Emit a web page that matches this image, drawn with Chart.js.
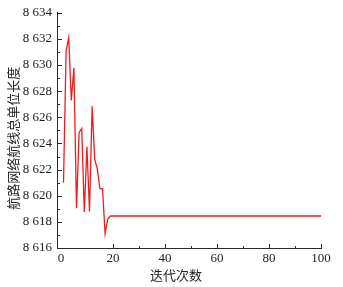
<!DOCTYPE html>
<html>
<head>
<meta charset="utf-8">
<script src="https://cdn.jsdelivr.net/npm/chart.js@4.4.1/dist/chart.umd.min.js"></script>
<style>
  html, body { margin: 0; padding: 0; background: #fff; }
  #wrap { width: 343px; height: 287px; }
</style>
</head>
<body>
<div id="wrap"><canvas id="chart"></canvas></div>
<script>
// iteration number -> total route length
const iterations = [];
for (let i = 1; i <= 100; i++) iterations.push(i);

const totalLength = [
  8621.0, 8631.1, 8632.1, 8627.3, 8629.8, 8619.05, 8624.85, 8625.15, 8618.75, 8623.75,
  8618.8, 8626.85, 8622.8, 8622.05, 8620.55, 8620.55, 8617.1, 8618.2, 8618.45, 8618.45,
  8618.45, 8618.45, 8618.45, 8618.45, 8618.45, 8618.45, 8618.45, 8618.45, 8618.45, 8618.45,
  8618.45, 8618.45, 8618.45, 8618.45, 8618.45, 8618.45, 8618.45, 8618.45, 8618.45, 8618.45,
  8618.45, 8618.45, 8618.45, 8618.45, 8618.45, 8618.45, 8618.45, 8618.45, 8618.45, 8618.45,
  8618.45, 8618.45, 8618.45, 8618.45, 8618.45, 8618.45, 8618.45, 8618.45, 8618.45, 8618.45,
  8618.45, 8618.45, 8618.45, 8618.45, 8618.45, 8618.45, 8618.45, 8618.45, 8618.45, 8618.45,
  8618.45, 8618.45, 8618.45, 8618.45, 8618.45, 8618.45, 8618.45, 8618.45, 8618.45, 8618.45,
  8618.45, 8618.45, 8618.45, 8618.45, 8618.45, 8618.45, 8618.45, 8618.45, 8618.45, 8618.45,
  8618.45, 8618.45, 8618.45, 8618.45, 8618.45, 8618.45, 8618.45, 8618.45, 8618.45, 8618.45
];

const xTicks = [0, 20, 40, 60, 80, 100];
const xMinorTicks = [30, 50, 70, 90];
const yTicks = [8616, 8618, 8620, 8622, 8624, 8626, 8628, 8630, 8632, 8634];
const yMinorTicks = [8617, 8619, 8621, 8623, 8625, 8627, 8629, 8631, 8633];

const xTitle = "迭代次数";
const yTitle = "航路网络航线总单位长度";

const axisColor = "#2a2a2a";
const serif = "'Liberation Serif', 'DejaVu Serif', serif";
const cjk = "'Noto Sans CJK SC', sans-serif";

// tick marks drawn pointing into the plot
const innerTicks = {
  id: "innerTicks",
  afterDraw(chart) {
    const ctx = chart.ctx;
    const x = chart.scales.x, y = chart.scales.y;
    const area = chart.chartArea;
    ctx.save();
    ctx.strokeStyle = axisColor;
    ctx.lineWidth = 1;
    ctx.beginPath();
    xTicks.forEach(v => {
      if (v === 0) return;
      const px = Math.round(x.getPixelForValue(v)) + 0.5;
      ctx.moveTo(px, area.bottom);
      ctx.lineTo(px, area.bottom - 4);
    });
    xMinorTicks.forEach(v => {
      const px = Math.round(x.getPixelForValue(v)) + 0.5;
      ctx.moveTo(px, area.bottom);
      ctx.lineTo(px, area.bottom - 2);
    });
    yTicks.forEach(v => {
      const py = Math.round(y.getPixelForValue(v)) + 0.5;
      ctx.moveTo(area.left, py);
      ctx.lineTo(area.left + 5, py);
    });
    yMinorTicks.forEach(v => {
      const py = Math.round(y.getPixelForValue(v)) + 0.5;
      ctx.moveTo(area.left, py);
      ctx.lineTo(area.left + 3, py);
    });
    ctx.stroke();
    ctx.restore();
  }
};

new Chart(document.getElementById("chart"), {
  type: "line",
  data: {
    labels: iterations,
    datasets: [{
      data: iterations.map((it, i) => ({ x: it, y: totalLength[i] })),
      borderColor: "#f01c1c",
      borderWidth: 1.3,
      pointRadius: 0,
      tension: 0,
      fill: false
    }]
  },
  options: {
    responsive: true,
    maintainAspectRatio: false,
    animation: false,
    layout: { padding: { top: 11, right: 22, left: 0, bottom: 0 } },
    plugins: { legend: { display: false }, tooltip: { enabled: false } },
    scales: {
      x: {
        type: "linear",
        min: -1.5,
        max: 100,
        afterBuildTicks: s => { s.ticks = xTicks.map(v => ({ value: v })); },
        afterFit: s => { s.height = 39; },
        grid: { display: false, drawTicks: false, tickLength: 0 },
        border: { display: true, color: axisColor, width: 1 },
        ticks: {
          color: "#222",
          padding: 3,
          maxRotation: 0,
          font: { family: serif, size: 13 }
        },
        title: {
          display: true,
          // trailing blanks nudge the centred title left, as in the original
          text: xTitle + "\u3000\u3000",
          color: "#222",
          padding: { top: 0, bottom: 4 },
          font: { family: cjk, size: 13 }
        }
      },
      y: {
        min: 8616,
        max: 8634,
        afterBuildTicks: s => { s.ticks = yTicks.map(v => ({ value: v })); },
        afterFit: s => { s.width = 57; },
        grid: { display: false, drawTicks: false, tickLength: 0 },
        border: { display: true, color: axisColor, width: 1 },
        ticks: {
          color: "#222",
          padding: 5,
          font: { family: serif, size: 13 },
          callback: v => String(v).replace(/\B(?=(\d{3})+(?!\d))/g, " ")
        },
        title: {
          display: true,
          text: yTitle + "\u3000 ",
          color: "#222",
          padding: { top: 5, bottom: 0 },
          font: { family: cjk, size: 13 }
        }
      }
    }
  },
  plugins: [innerTicks]
});
</script>
</body>
</html>
